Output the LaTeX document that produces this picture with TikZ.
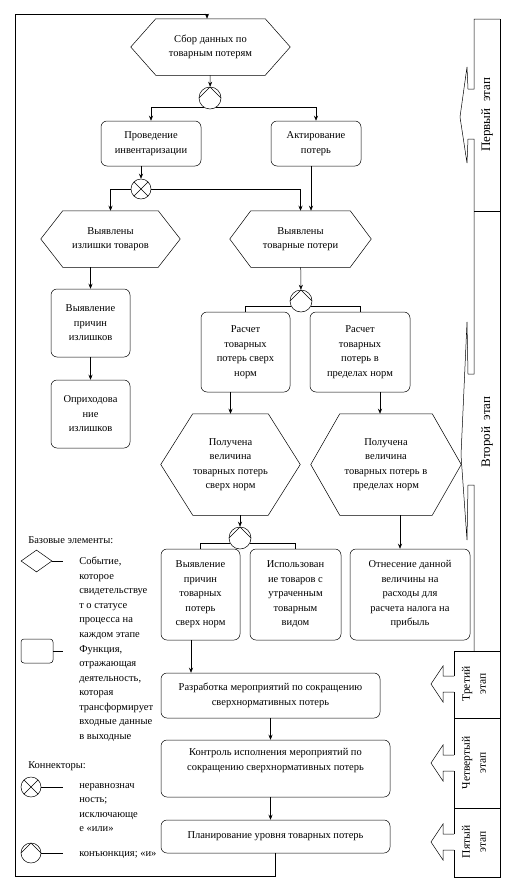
\documentclass[tikz,border=0pt]{standalone}
\usepackage{fontspec}
\setmainfont{Liberation Serif}
\usetikzlibrary{shapes.geometric,arrows.meta}

\tikzset{
  func/.style={draw, rounded corners=6pt, inner sep=0pt, align=center},
  event/.style={inner sep=0pt, align=center},
  conn/.style={circle, draw, minimum size=20pt, inner sep=0pt},
  xorconn/.style={conn, path picture={\draw (path picture bounding box.north west) -- (path picture bounding box.south east)
      (path picture bounding box.north east) -- (path picture bounding box.south west);}},
  andconn/.style={conn, path picture={\draw (path picture bounding box.west) -- (path picture bounding box.north)
      -- (path picture bounding box.east);}},
  legtext/.style={anchor=north west, align=left, inner sep=0pt},
  stagetext/.style={rotate=90, align=center, inner sep=0pt},
  >={Stealth[length=5pt,width=4pt]}
}
% hexagon outline round an event node
\newcommand{\hexframe}[2]{%
  \draw (#1.west) -- ([xshift=#2]#1.north west) -- ([xshift=-#2]#1.north east)
    -- (#1.east) -- ([xshift=-#2]#1.south east) -- ([xshift=#2]#1.south west) -- cycle;}

\begin{document}
\begin{tikzpicture}[x=1pt,y=-1pt,font=\fontsize{10.5pt}{14.5pt}\selectfont,line width=0.5pt]
    \useasboundingbox (0,0) rectangle (517,881);

    % First stage
    \node[event, minimum width=159pt, minimum height=56pt] (collect) at (210.5,47) {Сбор данных по\\товарным потерям};
    \hexframe{collect}{25pt}
    \node[andconn, minimum size=22pt] (and1) at (210,98) {};
    \node[func, minimum width=100pt, minimum height=45pt] (inv) at (151,143.5) {Проведение\\инвентаризации};
    \node[func, minimum width=90pt, minimum height=45pt] (act) at (316,143.5) {Актирование\\потерь};
    \node[xorconn] (xor1) at (141,189) {};

    % Second stage
    \node[event, minimum width=139pt, minimum height=56pt] (surplus) at (110.5,239) {Выявлены\\излишки товаров};
    \hexframe{surplus}{22pt}
    \node[event, minimum width=141pt, minimum height=56pt] (losses) at (300.5,239) {Выявлены\\товарные потери};
    \hexframe{losses}{21pt}
    \node[func, minimum width=79pt, minimum height=68pt] (cause1) at (90.5,323) {Выявление\\причин\\излишков};
    \node[func, minimum width=79pt, minimum height=68pt] (post) at (90.5,414) {Оприходова\\ние\\излишков};
    \node[andconn, minimum size=22pt] (and2) at (301,301) {};
    \node[func, minimum width=89pt, minimum height=80pt] (calcover) at (245.5,352) {Расчет\\товарных\\потерь сверх\\норм};
    \node[func, minimum width=100pt, minimum height=80pt] (calcin) at (360,352) {Расчет\\товарных\\потерь в\\пределах норм};
    \node[event, minimum width=139pt, minimum height=101pt] (gotover) at (230.5,464.5) {Получена\\величина\\товарных потерь\\сверх норм};
    \hexframe{gotover}{32pt}
    \node[event, minimum width=150pt, minimum height=101pt] (gotin) at (386,464.5) {Получена\\величина\\товарных потерь в\\пределах норм};
    \hexframe{gotin}{29pt}
    \node[andconn, minimum size=22pt] (and3) at (240,538) {};
    \node[func, minimum width=79pt, minimum height=91pt] (causeover) at (200.5,594.5) {Выявление\\причин\\товарных\\потерь\\сверх норм};
    \node[func, minimum width=91pt, minimum height=91pt] (reuse) at (295.5,594.5) {Использован\\ие товаров с\\утраченным\\товарным\\видом};
    \node[func, minimum width=120pt, minimum height=91pt] (tax) at (410,594.5) {Отнесение данной\\величины на\\расходы для\\расчета налога на\\прибыль};

    % Third to fifth stage
    \node[func, minimum width=219pt, minimum height=45pt] (measures) at (270.5,695.5) {Разработка мероприятий по сокращению\\сверхнормативных потерь};
    \node[func, minimum width=229pt, minimum height=57pt] (control) at (275.5,768.5) {Контроль исполнения мероприятий по\\сокращению сверхнормативных потерь\\[4pt]};
    \node[func, minimum width=229pt, minimum height=33pt] (planning) at (275.5,836.5) {Планирование уровня товарных потерь};

    % Connectors
    \draw[->] (collect) -- (and1);
    \draw[->] (and1.235) -| (inv.north);
    \draw[->] (and1.-55) -| (act.north);
    \draw[->] (xor1.north |- inv.south) -- (xor1);
    \draw[->] (xor1.west) -| (surplus.north);
    \draw[->] (xor1.east) -| (losses.north);
    \draw[->] ([xshift=-5pt]act.south) -- ([xshift=-5pt]act.south |- losses.north);
    \draw[->] (cause1.north |- surplus.south) -- (cause1.north);
    \draw[->] (cause1) -- (post);
    \draw[->] (losses) -- (and2);
    \draw (and2.210) -| (calcover.north);
    \draw (and2.-30) -| (calcin.north);
    \draw[->] (gotover.north |- calcover.south) -- (gotover.north);
    \draw[->] ([xshift=-6pt]gotin.north |- calcin.south) -- ([xshift=-6pt]gotin.north);
    \draw[->] (and3.north |- gotover.south) -- (and3.north);
    \draw (and3.210) -| (causeover.north);
    \draw (and3.-30) -| (reuse.north);
    \draw[->] ([xshift=-10pt]tax.north |- gotin.south) -- ([xshift=-10pt]tax.north);
    \draw[->] ([xshift=-9.5pt]causeover.south) -- ([xshift=-9.5pt]causeover.south |- measures.north);
    \draw[->] (measures) -- (measures.south |- control.north);
    \draw[->] (control.south -| measures.south) -- (measures.south |- planning.north);

    % Feedback loop
    \coordinate (loopbl) at (15,876);
    \coordinate (looptl) at (15,14);
    \draw[->] (planning.south) |- (loopbl) -- (looptl) -| ([xshift=-3.5pt]collect.north);

    % Legend
    \node[anchor=west, inner sep=0pt] (legtitle) at (28,540) {Базовые элементы:};
    \node[diamond, draw, aspect=1.4, minimum width=31pt, minimum height=22pt, inner sep=0pt] (legevent) at (36.5,561) {};
    \draw (legevent.east) -- (63,561);
    \node[legtext] (legeventtxt) at (79,557) {Событие,\\которое\\свидетельствуе\\т о статусе\\процесса на\\каждом этапе};
    \node[draw, rounded corners=3pt, minimum width=32pt, minimum height=24pt, inner sep=0pt] (legfunc) at (37,651) {};
    \draw (legfunc.east) -- (63,651);
    \node[legtext] (legfunctxt) at (79,645) {Функция,\\отражающая\\деятельность,\\которая\\трансформирует\\входные данные\\в выходные};
    \node[anchor=west, inner sep=0pt] (legconn) at (28,766) {Коннекторы:};
    \node[xorconn] (legxor) at (31,787) {};
    \draw (legxor.east) -- (63,787);
    \node[legtext] (legxortxt) at (79,783) {неравнознач\\ность;\\исключающе\\е «или»};
    \node[andconn] (legand) at (31,853) {};
    \draw (legand.east) -- (63,853);
    \node[anchor=west, inner sep=0pt] (legandtxt) at (79,855) {конъюнкция; «и»};

    % Stage column
    \draw (500,19) -- (474,19) -- (474,89) -- (468,89) -- (467,67) -- (460,117) -- (467,163) -- (468,139) -- (474,139)
      -- (474,374) -- (468,374) -- (467,322) -- (461,455) -- (467,540) -- (468,485) -- (474,485) -- (474,651);
    \draw (474,211) -- (500,211);
    \draw (500,19) -- (500,877) -- (454,877);
    \draw (454,651) -- (500,651) (454,718) -- (500,718) (454,808) -- (500,808);
    \draw (454,651) -- (454,676) (454,692) -- (454,755) (454,771) -- (454,834) (454,850) -- (454,877);
    \foreach \yc in {684,763,842} {
        \draw (454,\yc-8) -- (443,\yc-8) -- (443,\yc-18) -- (431,\yc) -- (443,\yc+18) -- (443,\yc+8) -- (454,\yc+8);
      }
    \node[stagetext, font=\fontsize{13pt}{15pt}\selectfont] (stage1) at (487,115) {Первый\enspace этап};
    \node[stagetext, font=\fontsize{13pt}{15pt}\selectfont] (stage2) at (487,432) {Второй\enspace этап};
    \node[stagetext, font=\fontsize{11.5pt}{16pt}\selectfont] (stage3) at (474,684) {Третий\\этап};
    \node[stagetext, font=\fontsize{11.5pt}{16pt}\selectfont] (stage4) at (474,763) {Четвертый\\этап};
    \node[stagetext, font=\fontsize{11.5pt}{16pt}\selectfont] (stage5) at (474,842) {Пятый\\этап};
  \end{tikzpicture}
\end{document}
